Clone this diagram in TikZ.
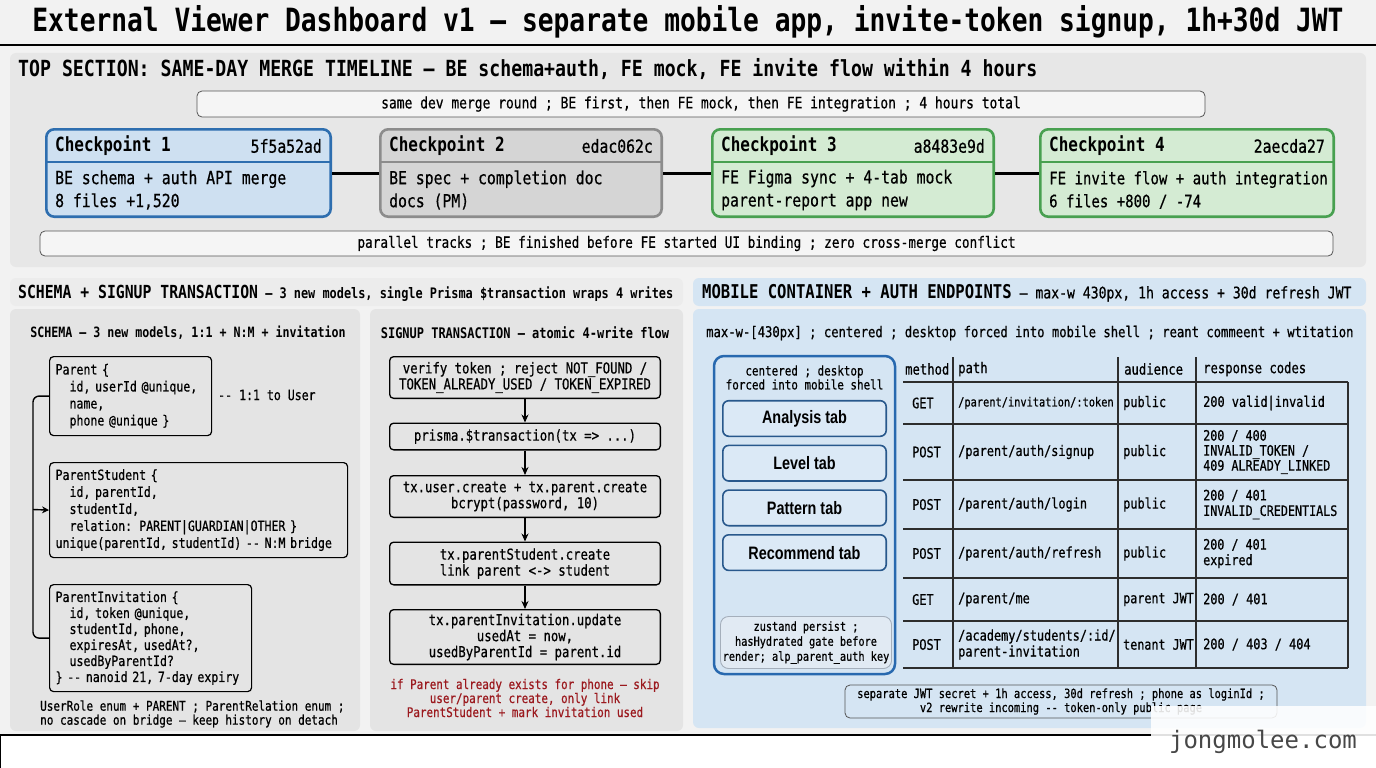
\documentclass[tikz,border=0pt]{standalone}
\usepackage{fontspec}
\setmainfont[FakeStretch=0.82, Ligatures=TeXOff, UprightFeatures={FakeBold=0.6}]{DejaVu Sans Mono}
\newfontfamily\tabfont[FakeStretch=0.8]{Liberation Sans}
\newfontfamily\markfont{DejaVu Sans Mono}
\usepackage{xcolor}
\usepackage{tikz}
\usetikzlibrary{arrows.meta, positioning, calc}
\definecolor{pagebg}{RGB}{242, 242, 242}
\definecolor{panelgray}{RGB}{231, 231, 231}
\definecolor{hdrgray}{RGB}{236, 236, 236}
\definecolor{subgray}{RGB}{228, 228, 228}
\definecolor{notefill}{RGB}{245, 245, 245}
\definecolor{notedraw}{RGB}{85, 85, 85}
\definecolor{cpbluedraw}{RGB}{46, 110, 175}
\definecolor{cpbluefill}{RGB}{206, 224, 241}
\definecolor{cpgraydraw}{RGB}{140, 140, 140}
\definecolor{cpgrayfill}{RGB}{213, 213, 213}
\definecolor{cpgreendraw}{RGB}{72, 160, 80}
\definecolor{cpgreenfill}{RGB}{212, 235, 211}
\definecolor{panelblue}{RGB}{213, 229, 243}
\definecolor{shellblue}{RGB}{40, 105, 175}
\definecolor{tabdraw}{RGB}{40, 88, 140}
\definecolor{tabfill}{RGB}{219, 233, 246}
\definecolor{zusfill}{RGB}{225, 234, 243}
\definecolor{zusdraw}{RGB}{165, 175, 187}
\definecolor{warnred}{RGB}{155, 25, 30}
\definecolor{gridcol}{RGB}{45, 45, 45}
\newcommand{\fsz}[2]{\fontsize{#1}{#2}\selectfont}
\newcommand{\ind}{\hspace*{0.99em}}

\begin{document}
\begin{tikzpicture}[x=1pt, y=-1pt,
    txt/.style={inner sep=0pt},
    note/.style={draw=notedraw, fill=notefill, rounded corners=5pt, line width=0.8pt, inner sep=0pt, align=center},
    cpbox/.style={line width=2.6pt, rounded corners=8pt, minimum height=87.4pt, inner sep=0pt},
    cpblue/.style={cpbox, draw=cpbluedraw, fill=cpbluefill},
    cpgray/.style={cpbox, draw=cpgraydraw, fill=cpgrayfill},
    cpgreen/.style={cpbox, draw=cpgreendraw, fill=cpgreenfill},
    cptitle/.style={txt, anchor=west, font=\fsz{19.5}{22}\bfseries},
    cphash/.style={txt, anchor=east, font=\fsz{18}{22}},
    cpbody/.style={txt, anchor=west, align=left, font=\fsz{18}{23}},
    conn/.style={draw=black, line width=3pt},
    schema/.style={draw=black, line width=1.2pt, rounded corners=4pt, anchor=north west, align=left, inner sep=6pt, font=\fsz{14.1}{17}},
    link/.style={draw=black, line width=1.4pt},
    flowstep/.style={draw=black, line width=1.3pt, rounded corners=4pt, minimum width=270.7pt, align=center, inner sep=0pt, font=\fsz{15}{16}},
    flowarrow/.style={draw=black, line width=1.4pt, -{Stealth[length=8pt, width=7pt]}},
    tabbox/.style={draw=tabdraw, fill=tabfill, line width=1.6pt, rounded corners=6pt, minimum width=163.4pt, minimum height=35.6pt, inner sep=0pt, font=\tabfont\bfseries\fsz{18}{20}},
    grid/.style={draw=gridcol, line width=1.3pt},
    cell/.style={txt, anchor=west, align=left, font=\fsz{14.5}{15.5}}
]
    % Page, title
    \useasboundingbox (0,0) rectangle (1376,768);
    \fill[pagebg] (0,0) rectangle (1376,768);
    \node[txt, font=\fsz{32}{36}\bfseries] (title) at (688,22) {External Viewer Dashboard v1 — separate mobile app, invite-token signup, 1h+30d JWT};
    \draw[line width=2pt] (0,45) -- (1376,45);

    % Top section
    \fill[panelgray, rounded corners=6pt] (10,53) rectangle (1366,267);
    \node[txt, anchor=west, font=\fsz{22.2}{26}\bfseries] (tophdr) at (18,69) {TOP SECTION: SAME-DAY MERGE TIMELINE – BE schema+auth, FE mock, FE invite flow within 4 hours};
    \node[note, minimum width=1008pt, minimum height=26pt, font=\fsz{15.8}{18}] (round) at (701,104) {same dev merge round ; BE first, then FE mock, then FE integration ; 4 hours total};

    \node[cpblue, anchor=north west, minimum width=284.4pt] (cp1) at (45,128) {};
    \node[cpgray, right=47pt of cp1, minimum width=281.4pt] (cp2) {};
    \node[cpgreen, right=48pt of cp2, minimum width=281.4pt] (cp3) {};
    \node[cpgreen, right=44pt of cp3, minimum width=293.4pt] (cp4) {};

    \draw[cpbluedraw, line width=1.5pt] ($(cp1.north west)+(0,34)$) -- ($(cp1.north east)+(0,34)$);
    \draw[cpgraydraw, line width=1.5pt] ($(cp2.north west)+(0,34)$) -- ($(cp2.north east)+(0,34)$);
    \draw[cpgreendraw, line width=1.5pt] ($(cp3.north west)+(0,34)$) -- ($(cp3.north east)+(0,34)$);
    \draw[cpgreendraw, line width=1.5pt] ($(cp4.north west)+(0,34)$) -- ($(cp4.north east)+(0,34)$);

    \node[cptitle] (cp1t) at ($(cp1.north west)+(10,18)$) {Checkpoint 1};
    \node[cphash] (cp1h) at ($(cp1.north east)+(-10,18)$) {5f5a52ad};
    \node[cpbody] (cp1b) at ($(cp1.north west)+(10,62)$) {BE schema + auth API merge\\8 files +1,520};
    \node[cptitle] (cp2t) at ($(cp2.north west)+(10,18)$) {Checkpoint 2};
    \node[cphash] (cp2h) at ($(cp2.north east)+(-10,18)$) {edac062c};
    \node[cpbody] (cp2b) at ($(cp2.north west)+(10,62)$) {BE spec + completion doc\\docs (PM)};
    \node[cptitle] (cp3t) at ($(cp3.north west)+(10,18)$) {Checkpoint 3};
    \node[cphash] (cp3h) at ($(cp3.north east)+(-10,18)$) {a8483e9d};
    \node[cpbody] (cp3b) at ($(cp3.north west)+(10,62)$) {FE Figma sync + 4-tab mock\\parent-report app new};
    \node[cptitle] (cp4t) at ($(cp4.north west)+(10,18)$) {Checkpoint 4};
    \node[cphash] (cp4h) at ($(cp4.north east)+(-10,18)$) {2aecda27};
    \node[cpbody, font=\fsz{17.1}{23}] (cp4b) at ($(cp4.north west)+(10,62)$) {FE invite flow + auth integration\\6 files +800 / -74};

    \draw[conn] (cp1) -- (cp2);
    \draw[conn] (cp2) -- (cp3);
    \draw[conn] (cp3) -- (cp4);

    \node[note, minimum width=1293pt, minimum height=25pt, font=\fsz{15.5}{18}] (par) at (686.5,243.5) {parallel tracks ; BE finished before FE started UI binding ; zero cross-merge conflict};

    % Schema + signup panel
    \fill[hdrgray, rounded corners=6pt] (10,278) rectangle (683,306);
    \node[txt, anchor=west, font=\fsz{14.5}{18}\bfseries] (lhdr) at (18,293) {{\fsz{18}{22}SCHEMA + SIGNUP TRANSACTION} – 3 new models, single Prisma \$transaction wraps 4 writes};
    \fill[subgray, rounded corners=6pt] (10,309) rectangle (360,731);
    \fill[subgray, rounded corners=6pt] (370,309) rectangle (683,731);

    % Schema
    \node[txt, font=\fsz{14.2}{17}\bfseries] (schemattl) at (188,333) {SCHEMA – 3 new models, 1:1 + N:M + invitation};
    \node[schema, text width=150pt, minimum height=79pt] (parent) at (49,356) {Parent \{\\\ind id, userId @unique,\\\ind name,\\\ind phone @unique \}};
    \node[txt, anchor=west, font=\fsz{14.1}{17}] (touser) at (218,395) {-- 1:1 to User};
    \node[schema, text width=286pt, minimum height=95pt] (pstudent) at (49,462) {ParentStudent \{\\\ind id, parentId,\\\ind studentId,\\\ind relation: PARENT|GUARDIAN|OTHER \}\\unique(parentId, studentId) -- N:M bridge};
    \node[schema, text width=190pt, minimum height=107pt, font=\fsz{14.1}{16}] (invite) at (49,584) {ParentInvitation \{\\\ind id, token @unique,\\\ind studentId, phone,\\\ind expiresAt, usedAt?,\\\ind usedByParentId?\\\} -- nanoid 21, 7-day expiry};

    \coordinate (bx) at (33,509.5);
    \draw[link, rounded corners=6pt] (parent.west) -| (bx) |- (invite.west);
    \draw[link, -{Stealth[length=7pt, width=7pt]}] (bx) -- (pstudent.west);

    \node[txt, anchor=west, align=left, font=\fsz{13.4}{14}] (schemafoot) at (40,714) {UserRole enum + PARENT ; ParentRelation enum ;\\no cascade on bridge – keep history on detach};

    % Signup transaction
    \node[txt, font=\fsz{14.6}{17}\bfseries] (signupttl) at (525,333) {SIGNUP TRANSACTION – atomic 4-write flow};
    \node[flowstep, minimum height=41.7pt] (s1) at (525,377.5) {verify token ; reject NOT\_FOUND /\\TOKEN\_ALREADY\_USED / TOKEN\_EXPIRED};
    \node[flowstep, minimum height=26.7pt, below=23.5pt of s1] (s2) {prisma.\$transaction(tx => ...)};
    \node[flowstep, minimum height=41.7pt, below=24.5pt of s2] (s3) {tx.user.create + tx.parent.create\\bcrypt(password, 10)};
    \node[flowstep, minimum height=42.7pt, below=23.5pt of s3] (s4) {tx.parentStudent.create\\link parent <-> student};
    \node[flowstep, minimum height=54.7pt, below=23.5pt of s4] (s5) {tx.parentInvitation.update\\usedAt = now,\\usedByParentId = parent.id};

    \draw[flowarrow] (s1) -- (s2);
    \draw[flowarrow] (s2) -- (s3);
    \draw[flowarrow] (s3) -- (s4);
    \draw[flowarrow] (s4) -- (s5);

    \node[txt, align=center, text=warnred, font=\fsz{13.3}{14}] (warn) at (525,698) {if Parent already exists for phone – skip\\user/parent create, only link\\ParentStudent + mark invitation used};

    % Mobile container + auth endpoints
    \fill[panelblue, rounded corners=6pt] (693,278) rectangle (1366,306);
    \fill[panelblue, rounded corners=6pt] (693,309) rectangle (1366,728);
    \node[txt, anchor=west, font=\fsz{16}{20}] (rhdr) at (702,293) {{\fsz{19}{22}\bfseries MOBILE CONTAINER + AUTH ENDPOINTS} – max-w 430px, 1h access + 30d refresh JWT};
    \node[txt, anchor=west, font=\fsz{14.9}{17}] (rsub) at (706,333) {max-w-[430px] ; centered ; desktop forced into mobile shell ; reant commeent + wtitation};

    \node[draw=shellblue, fill=panelblue, line width=2.5pt, rounded corners=10pt, minimum width=181pt, minimum height=318pt, inner sep=0pt] (shell) at (804.5,515) {};
    \node[txt, align=center, font=\fsz{13.3}{14}] (shellcap) at (804.5,377.5) {centered ; desktop\\forced into mobile shell};
    \node[tabbox] (tab1) at (804.5,418.5) {Analysis tab};
    \node[tabbox, below=7.5pt of tab1] (tab2) {Level tab};
    \node[tabbox, below=7.5pt of tab2] (tab3) {Pattern tab};
    \node[tabbox, below=7.5pt of tab3] (tab4) {Recommend tab};
    \node[draw=zusdraw, fill=zusfill, line width=0.9pt, rounded corners=8pt, minimum width=171pt, minimum height=52pt, inner sep=0pt, align=center, font=\fsz{12.5}{15}] (zus) at (806,642.5) {zustand persist ;\\hasHydrated gate before\\render; alp\_parent\_auth key};

    % Endpoint table
    \draw[grid] (953,357) -- (953,668);
    \draw[grid] (1118,357) -- (1118,668);
    \draw[grid] (1196,357) -- (1196,668);
    \draw[grid] (1348,382) -- (1348,668);
    \draw[grid] (903,382) -- (1348,382);
    \draw[grid] (903,424) -- (1348,424);
    \draw[grid] (903,480) -- (1348,480);
    \draw[grid] (903,529) -- (1348,529);
    \draw[grid] (903,578) -- (1348,578);
    \draw[grid] (903,621) -- (1348,621);
    \draw[grid] (903,668) -- (1348,668);

    \node[cell, font=\fsz{14.9}{16}] (hm) at (905,369) {method};
    \node[cell, font=\fsz{14.9}{16}] (hp) at (958,369) {path};
    \node[cell, font=\fsz{14.9}{16}] (ha) at (1124,369) {audience};
    \node[cell, font=\fsz{14.9}{16}] (hr) at (1203,369) {response codes};

    \node[cell] (m1) at (912,403) {GET};
    \node[cell, font=\fsz{12.6}{15}] (p1) at (958,403) {/parent/invitation/:token};
    \node[cell] (a1) at (1123,403) {public};
    \node[cell] (r1) at (1203,403) {200 valid|invalid};

    \node[cell] (m2) at (912,452) {POST};
    \node[cell] (p2) at (958,452) {/parent/auth/signup};
    \node[cell] (a2) at (1123,452) {public};
    \node[cell, font=\fsz{14.3}{15}] (r2) at (1203,452) {200 / 400\\INVALID\_TOKEN /\\409 ALREADY\_LINKED};

    \node[cell] (m3) at (912,504.5) {POST};
    \node[cell] (p3) at (958,504.5) {/parent/auth/login};
    \node[cell] (a3) at (1123,504.5) {public};
    \node[cell, font=\fsz{14.3}{15.5}] (r3) at (1203,504.5) {200 / 401\\INVALID\_CREDENTIALS};

    \node[cell] (m4) at (912,553.5) {POST};
    \node[cell] (p4) at (958,553.5) {/parent/auth/refresh};
    \node[cell] (a4) at (1123,553.5) {public};
    \node[cell, font=\fsz{14.3}{15.5}] (r4) at (1203,553.5) {200 / 401\\expired};

    \node[cell] (m5) at (912,599.5) {GET};
    \node[cell] (p5) at (958,599.5) {/parent/me};
    \node[cell, font=\fsz{14.3}{15}] (a5) at (1123,599.5) {parent JWT};
    \node[cell] (r5) at (1203,599.5) {200 / 401};

    \node[cell] (m6) at (912,644.5) {POST};
    \node[cell, font=\fsz{14.5}{16}] (p6) at (958,644.5) {/academy/students/:id/\\parent-invitation};
    \node[cell, font=\fsz{14.3}{15}] (a6) at (1123,644.5) {tenant JWT};
    \node[cell] (r6) at (1203,644.5) {200 / 403 / 404};

    \node[note, fill=panelblue, minimum width=432pt, minimum height=33pt, font=\fsz{12.7}{14}] (jwtnote) at (1061,701.5) {separate JWT secret + 1h access, 30d refresh ; phone as loginId ;\\v2 rewrite incoming -- token-only public page};

    % Footer strip and watermark
    \fill[white] (0,735) rectangle (1376,768);
    \draw[line width=1.6pt] (1376,735) -- (0,735) -- (0,768);
    \fill[white, opacity=0.88] (1151,706) rectangle (1376,768);
    \node[txt, text=black!72, font=\markfont\fsz{24}{26}] (mark) at (1263,742) {jongmolee.com};
\end{tikzpicture}
\end{document}
